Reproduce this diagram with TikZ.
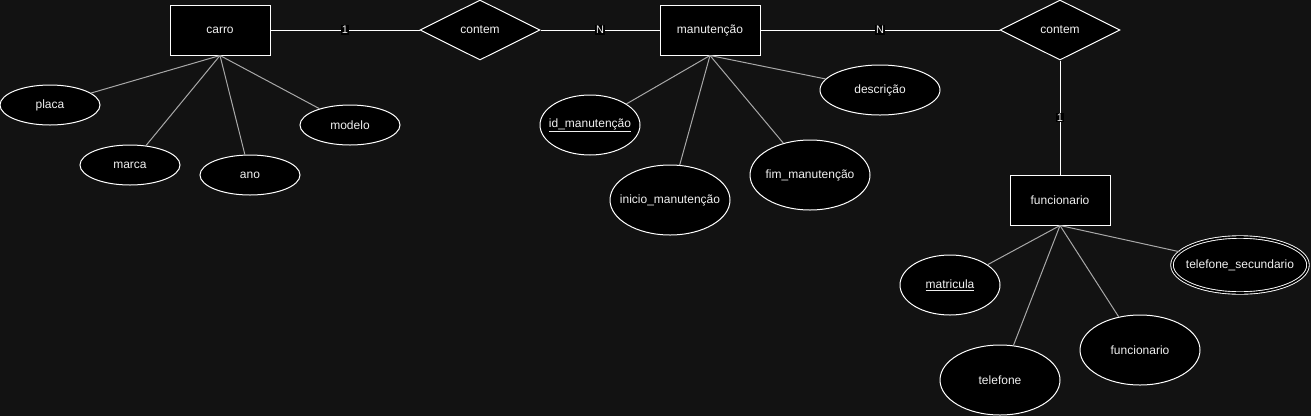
\documentclass[tikz,border=0pt]{standalone}
\usepackage{fontspec}
\setmainfont{Liberation Sans}
\usetikzlibrary{shapes.geometric}
\definecolor{bg}{HTML}{121212}
\definecolor{txt}{HTML}{F0F0F0}
\definecolor{attrline}{HTML}{A8A8A8}
\tikzset{
  entity/.style={draw=white, fill=black, line width=1pt, minimum width=100pt, minimum height=50pt, inner sep=0pt, text=txt, font=\fontsize{12pt}{14pt}\selectfont},
  relation/.style={diamond, draw=white, fill=black, line width=1pt, minimum width=120pt, minimum height=60pt, aspect=2, inner sep=0pt, text=txt, font=\fontsize{12pt}{14pt}\selectfont},
  attrtext/.style={text=txt, inner sep=0pt, font=\fontsize{12pt}{14pt}\selectfont},
  attr/.style={ellipse, draw=white, fill=black, line width=1pt, inner sep=0pt, label={[attrtext]center:#1}},
  multiattr/.style={attr=#1, double=black, double distance=1.6pt, line width=0.9pt},
  relline/.style={draw=white, line width=1pt},
  attrlink/.style={draw=attrline, line width=1pt},
  card/.style={fill=black, text=txt, inner sep=1.2pt, font=\fontsize{11pt}{12pt}\selectfont}
}
\newcommand{\ul}[1]{\underline{#1}}
\begin{document}
\begin{tikzpicture}[x=1pt,y=-1pt]
\fill[bg] (0,0) rectangle (1311,416);
\useasboundingbox (0,0) rectangle (1311,416);

% entities
\node[entity] (carro) at (220,30) {carro};
\node[entity] (manut) at (710,30) {manutenção};
\node[entity] (func) at (1060,200) {funcionario};

% relationships
\node[relation] (contem1) at (480,30) {contem};
\node[relation] (contem2) at (1060,30) {contem};

% carro attributes
\node[attr={placa}, minimum width=100pt, minimum height=40pt] (placa) at (50,105) {};
\node[attr={marca}, minimum width=100pt, minimum height=40pt] (marca) at (130,165) {};
\node[attr={ano}, minimum width=100pt, minimum height=40pt] (ano) at (250,175) {};
\node[attr={modelo}, minimum width=100pt, minimum height=40pt] (modelo) at (350,125) {};

% manutencao attributes
\node[attr={\ul{id\_manutenção}}, minimum width=100pt, minimum height=60pt] (idman) at (590,125) {};
\node[attr={inicio\_manutenção}, minimum width=120pt, minimum height=70pt] (inicio) at (670,200) {};
\node[attr={fim\_manutenção}, minimum width=120pt, minimum height=70pt] (fim) at (810,175) {};
\node[attr={descrição}, minimum width=120pt, minimum height=50pt] (desc) at (880,90) {};

% funcionario attributes
\node[attr={\ul{matricula}}, minimum width=100pt, minimum height=60pt] (matr) at (950,285) {};
\node[attr={telefone}, minimum width=120pt, minimum height=70pt] (tel) at (1000,380) {};
\node[attr={funcionario}, minimum width=120pt, minimum height=70pt] (funcattr) at (1140,350) {};
\node[multiattr={telefone\_secundario}, minimum width=136pt, minimum height=56pt] (tel2) at (1240,265) {};

% attribute links
\draw[attrlink] (carro.south) -- (placa);
\draw[attrlink] (carro.south) -- (marca);
\draw[attrlink] (carro.south) -- (ano);
\draw[attrlink] (carro.south) -- (modelo);
\draw[attrlink] (manut.south) -- (idman);
\draw[attrlink] (manut.south) -- (inicio);
\draw[attrlink] (manut.south) -- (fim);
\draw[attrlink] (manut.south) -- (desc);
\draw[attrlink] (func.south) -- (matr);
\draw[attrlink] (func.south) -- (tel);
\draw[attrlink] (func.south) -- (funcattr);
\draw[attrlink] (func.south) -- (tel2);

% relationship links
\draw[relline] (carro.east) -- node[card] {1} (contem1.west);
\draw[relline] (contem1.east) -- node[card] {N} (manut.west);
\draw[relline] (manut.east) -- node[card] {N} (contem2.west);
\draw[relline] (contem2.south) -- node[card] {1} (func.north);
\end{tikzpicture}
\end{document}
